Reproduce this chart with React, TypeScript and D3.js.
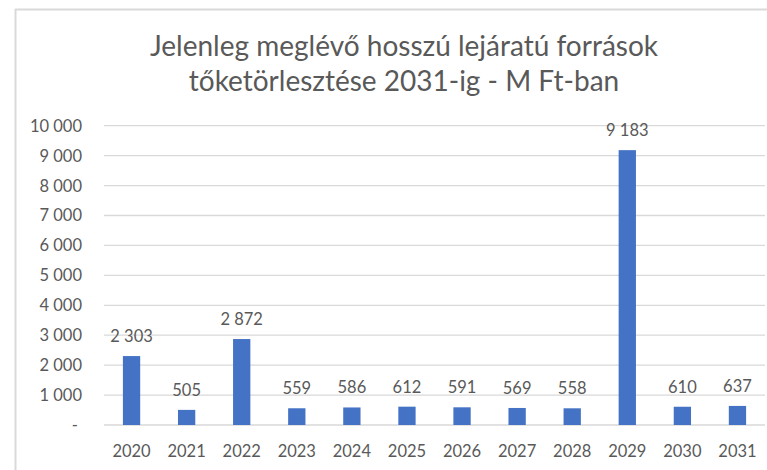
import React from "react";
import * as d3 from "d3";

const years = ["2020", "2021", "2022", "2023", "2024", "2025", "2026", "2027", "2028", "2029", "2030", "2031"];
const values = [2303, 505, 2872, 559, 586, 612, 591, 569, 558, 9183, 610, 637];
const yTicks = [0, 1000, 2000, 3000, 4000, 5000, 6000, 7000, 8000, 9000, 10000];
const titleLines = ["Jelenleg meglévő hosszú lejáratú források", "tőketörlesztése 2031-ig - M Ft-ban"];

const W = 767;
const H = 470;
const FONT = "Lato, 'Open Sans', sans-serif";
const TEXT = "#595959";

const loc = d3.formatLocale({ decimal: ",", thousands: " ", grouping: [3], currency: ["", " Ft"] });
const fmt = loc.format(",d");

export default function App() {
  const x = d3.scaleBand<string>().domain(years).range([104, 765]).paddingInner(0.686).paddingOuter(0.343);
  const y = d3.scaleLinear().domain([0, 10000]).range([425, 125.7]);

  return (
    <div style={{ position: "fixed", left: 0, top: 0, width: W, height: H, background: "#fff" }}>
      <svg width={W} height={H} style={{ display: "block" }} fontFamily={FONT}>
        <rect x={0} y={0} width={W} height={H} fill="#fff" />
        <line x1={15} y1={9.5} x2={W} y2={9.5} stroke="#d9d9d9" strokeWidth={2} />
        <line x1={15.5} y1={9} x2={15.5} y2={H} stroke="#d9d9d9" strokeWidth={2} />
        {titleLines.map((t, i) => (
          <text key={t} x={404} y={45 + i * 35} textAnchor="middle" dominantBaseline="central" fontSize={28} fill={TEXT}>
            {t}
          </text>
        ))}
        {yTicks.map((v) => (
          <g key={v}>
            <line x1={104} x2={765} y1={y(v)} y2={y(v)} stroke="#d9d9d9" strokeWidth={1.3} />
            <text
              x={v === 0 ? 78 : 82}
              y={y(v)}
              textAnchor="end"
              dominantBaseline="central"
              fontSize={16.5}
              fill={TEXT}
            >
              {v === 0 ? "-" : fmt(v)}
            </text>
          </g>
        ))}
        {years.map((yr, i) => (
          <g key={yr}>
            <rect x={x(yr)} y={y(values[i])} width={x.bandwidth()} height={y(0) - y(values[i])} fill="#4472C4" />
            <text
              x={(x(yr) as number) + x.bandwidth() / 2}
              y={y(values[i]) - 20}
              textAnchor="middle"
              dominantBaseline="central"
              fontSize={16.5}
              fill={TEXT}
            >
              {fmt(values[i])}
            </text>
            <text
              x={(x(yr) as number) + x.bandwidth() / 2}
              y={450.5}
              textAnchor="middle"
              dominantBaseline="central"
              fontSize={16.5}
              fill={TEXT}
            >
              {yr}
            </text>
          </g>
        ))}
      </svg>
    </div>
  );
}
